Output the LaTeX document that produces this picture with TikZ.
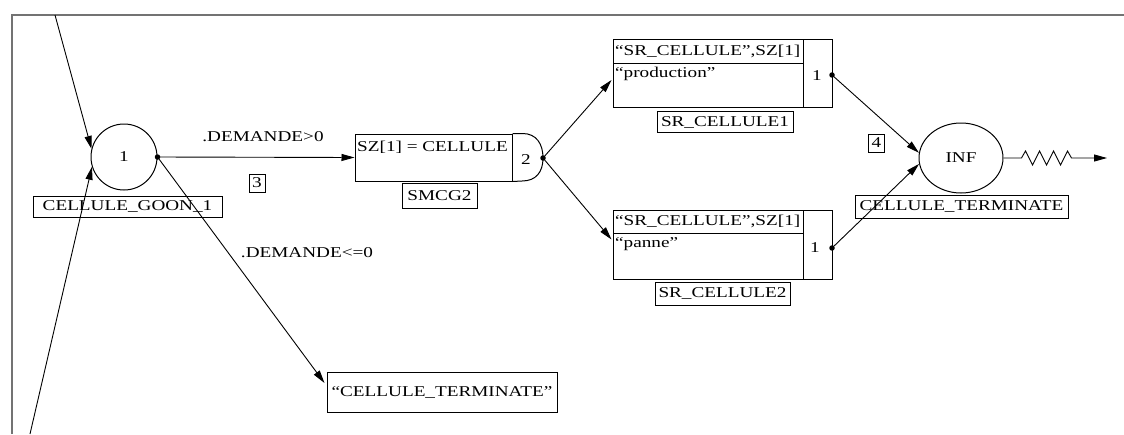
\documentclass[tikz,border=0pt]{standalone}
\usepackage{fontspec}
\setmainfont{Liberation Serif}[FakeStretch=1.28]
\usetikzlibrary{arrows.meta,shapes.geometric,calc}
\begin{document}
\begin{tikzpicture}[x=1pt,y=-1pt,
  every node/.style={font=\fontsize{15}{17}\selectfont, inner sep=0pt},
  lab/.style={draw, rectangle, minimum height=21pt, line width=1pt},
  num/.style={draw, rectangle, minimum width=16pt, minimum height=18pt, line width=0.9pt},
  box/.style={draw, rectangle, line width=1pt},
  conn/.style={line width=0.9pt, -{Triangle[length=13pt,width=7pt]}},
  dot/.style={circle, fill, minimum size=5.5pt, inner sep=0pt},
  txt/.style={anchor=west}
]
\useasboundingbox (0,0) rectangle (1124,434);
\draw[black!55, line width=1.3pt] (12,434) -- (12,15) -- (1124,15);

% first circle
\node[draw, circle, minimum size=66pt, line width=1pt] (c1) at (124,157) {1};
\node[lab, minimum width=189pt] (c1lab) at (127.5,206.5) {CELLULE\_GOON\_1};
\node[dot] (c1dot) at (c1.east) {};

% SMCG2
\node[box, minimum width=157pt, minimum height=47pt] (smbody) at (433.5,157.5) {};
\node[txt] (smtxt) at (357,147) {SZ[1] = CELLULE};
\coordinate (smout) at (543,158);
\draw[line width=1pt] (smbody.north east) -- ++(10,0) .. controls ++(14,0) and ++(0,-14) .. (smout)
   .. controls ++(0,14) and ++(14,0) .. (522,181) -- (smbody.south east);
\node (smnum) at (526,160) {2};
\node[dot] (smdot) at (smout) {};
\node[lab, minimum width=75pt, minimum height=25pt] (smlab) at (439.5,195.5) {SMCG2};

% SR_CELLULE1
\node[box, minimum width=219pt, minimum height=68pt] (sr1) at (722.5,73) {};
\draw[line width=1pt] (803,39) -- (803,107);
\draw[line width=1pt] (613,63) -- (803,63);
\node[txt] (sr1h) at (615,51) {``SR\_CELLULE'',SZ[1]};
\node[txt] (sr1b) at (615,74) {``production''};
\node (sr1n) at (817,76) {1};
\node[dot] (sr1dot) at (832,75) {};
\node[lab, minimum width=136pt] (sr1lab) at (725,122) {SR\_CELLULE1};

% SR_CELLULE2
\node[box, minimum width=219pt, minimum height=69pt] (sr2) at (722.5,244.5) {};
\draw[line width=1pt] (803,210) -- (803,279);
\draw[line width=1pt] (613,233) -- (803,233);
\node[txt] (sr2h) at (615,221.5) {``SR\_CELLULE'',SZ[1]};
\node[txt] (sr2b) at (615,244) {``panne''};
\node (sr2n) at (815,248) {1};
\node[dot] (sr2dot) at (832,248) {};
\node[lab, minimum width=135pt, minimum height=23pt] (sr2lab) at (722.5,293.5) {SR\_CELLULE2};

% INF
\node[draw, ellipse, minimum width=84pt, minimum height=70pt, line width=1pt] (inf) at (961,158) {INF};
\node[lab, minimum width=213pt, minimum height=23pt] (inflab) at (961.5,206.5) {CELLULE\_TERMINATE};
\coordinate (out) at (1107,158);

% terminate box
\node[box, minimum width=230pt, minimum height=40pt] (term) at (442,392) {``CELLULE\_TERMINATE''};

% labels
\node (dgt) at (263,137) {.DEMANDE>0};
\node[num] (n3) at (257,183) {3};
\node (dle) at (307,253) {.DEMANDE<=0};
\node[num] (n4) at (876.5,143) {4};

% connectors
\coordinate (in1) at (55,15);
\coordinate (in2) at (30,434);
\draw[conn] (in1) -- (c1.166);
\draw[conn] (in2) -- (c1.197);
\draw[conn] (c1dot.center) -- (smbody.west);
\draw[conn] (c1dot.center) -- ($(term.west)+(-2,-9)$);
\draw[conn] (smdot.center) -- ($(sr1.west)+(-1,7)$);
\draw[conn] (smdot.center) -- ($(sr2.west)+(-1,-5)$);
\draw[conn] (sr1dot.center) -- (inf.173);
\draw[conn] (sr2dot.center) -- (inf.188);
\draw[conn] (inf.east) -- ++(18,0) -- ++(4,-7) -- ++(7,14) -- ++(7,-14) -- ++(7,14) -- ++(7,-14) -- ++(7,14) -- ++(7,-14) -- ++(4,7) -- (out);
\end{tikzpicture}
\end{document}
